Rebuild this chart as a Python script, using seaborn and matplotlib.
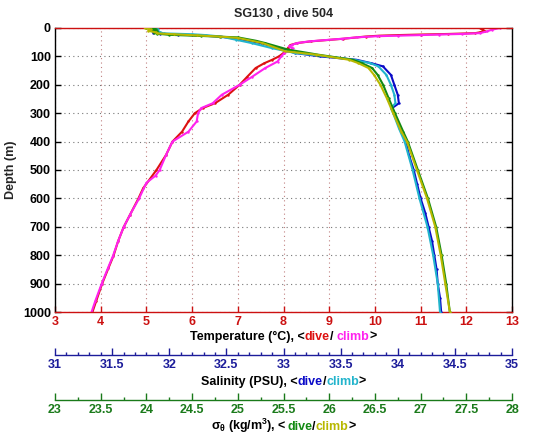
import matplotlib
matplotlib.use("Agg")
import matplotlib.pyplot as plt
import seaborn as sns
import numpy as np
import pandas as pd
from matplotlib.offsetbox import TextArea, HPacker, AnnotationBbox
from matplotlib.ticker import MultipleLocator

# ---------------- data ----------------
title = "SG130 , dive 504"

# Temperature (deg C)
temp_dive_depth = [0, 5, 10, 15, 18, 21, 23, 25, 27, 30, 38, 47, 53, 60, 70, 88, 100, 112, 124, 141,
                   171, 200, 235, 265, 282, 300, 329, 365, 400, 447, 500, 564, 602, 658, 702,
                   751, 802, 845, 901, 962, 1000]
temp_dive = [12.3, 12.35, 12.4, 12.3, 12.2, 11.6, 11.0, 10.5, 10.1, 9.8, 9.3, 8.6, 8.3, 8.15, 8.1,
             8.0, 7.9, 7.75, 7.58, 7.39, 7.21, 7.04, 6.79, 6.5, 6.23, 6.06, 5.92, 5.78, 5.57, 5.43,
             5.22, 4.93, 4.82, 4.64, 4.5, 4.38, 4.28, 4.17, 4.03, 3.90, 3.82]
temp_climb_depth = [0, 6, 12, 18, 21, 23, 25, 27, 29, 33, 38, 47, 53, 59, 65, 71, 80, 88, 100, 118,
                    141, 171, 200, 235, 265, 282, 300, 329, 365, 400, 447, 500, 520, 545, 600,
                    658, 702, 751, 802, 845, 901, 962, 1000]
temp_climb = [12.74, 12.56, 12.45, 12.3, 11.9, 11.4, 11.0, 10.5, 10.04, 9.6, 9.27, 8.57, 8.3, 8.19,
              8.12, 8.2, 8.15, 8.02, 7.95, 7.87, 7.6, 7.32, 7.04, 6.65, 6.45, 6.2, 6.13, 6.1, 5.92,
              5.57, 5.43, 5.29, 5.2, 5.0, 4.84, 4.64, 4.5, 4.38, 4.27, 4.16, 4.02, 3.88, 3.8]

# Salinity (PSU)
sal_dive_depth = [0, 4, 8, 12, 16, 20, 23, 26, 30, 40, 53, 71, 88, 100, 112, 124, 135, 165, 200,
                  235, 265, 282, 300, 353, 400, 450, 500, 550, 600, 650, 700, 750, 800, 850, 900,
                  950, 1000]
sal_dive = [31.82, 31.88, 31.84, 31.9, 31.86, 31.92, 32.08, 32.24, 32.44, 32.62, 32.80, 32.96,
            33.10, 33.32, 33.64, 33.77, 33.87, 33.94, 33.97, 34.0, 34.01, 33.95, 33.97, 34.02,
            34.07, 34.10, 34.14, 34.17, 34.20, 34.24, 34.27, 34.30, 34.32, 34.34, 34.35, 34.37, 34.38]
sal_climb_depth = [0, 5, 10, 15, 19, 22, 25, 30, 41, 53, 71, 88, 100, 112, 124, 135, 165, 200, 235,
                   265, 282, 300, 353, 400, 500, 600, 700, 800, 900, 1000]
sal_climb = [31.86, 31.9, 31.85, 31.92, 31.95, 32.2, 32.32, 32.45, 32.58, 32.72, 32.90, 33.10, 33.38,
             33.62, 33.76, 33.83, 33.90, 33.94, 33.97, 33.98, 33.94, 33.96, 34.01, 34.06, 34.13,
             34.19, 34.26, 34.31, 34.35, 34.37]

# Sigma-theta (kg/m^3)
sig_dive_depth = [0, 4, 8, 12, 16, 20, 24, 28, 33, 45, 53, 76, 94, 112, 124, 141, 165, 200, 247,
                  300, 365, 400, 500, 600, 700, 800, 900, 1000]
sig_dive = [24.0, 24.1, 24.05, 24.12, 24.08, 24.12, 24.25, 24.6, 25.0, 25.2, 25.3, 25.55, 25.88,
            26.26, 26.36, 26.47, 26.53, 26.59, 26.65, 26.72, 26.81, 26.86, 26.97, 27.08, 27.17,
            27.23, 27.28, 27.32]
sig_climb_depth = [0, 5, 10, 15, 19, 22, 26, 30, 35, 53, 82, 94, 112, 124, 141, 165, 200, 247, 300,
                   365, 400, 500, 600, 700, 800, 900, 1000]
sig_climb = [23.98, 24.05, 24.02, 24.1, 24.12, 24.3, 24.55, 24.8, 25.0, 25.27, 25.52, 25.86, 26.22,
             26.32, 26.43, 26.49, 26.56, 26.63, 26.70, 26.79, 26.85, 26.96, 27.07, 27.16, 27.22,
             27.27, 27.32]

temp_ticks = list(range(3, 14))
sal_ticks = [31, 31.5, 32, 32.5, 33, 33.5, 34, 34.5, 35]
sig_ticks = [23, 23.5, 24, 24.5, 25, 25.5, 26, 26.5, 27, 27.5, 28]
depth_ticks = list(range(0, 1001, 100))

# ---------------- style ----------------
sns.set_style("white")
plt.rcParams["font.family"] = ["Liberation Sans", "DejaVu Sans"]
plt.rcParams["font.weight"] = "bold"
plt.rcParams["mathtext.fontset"] = "custom"
plt.rcParams["mathtext.rm"] = "Liberation Sans:bold"
plt.rcParams["mathtext.it"] = "Liberation Sans:bold"
plt.rcParams["mathtext.bf"] = "Liberation Sans:bold"

C_RED = "#dd1111"
C_MAG = "#ff22ee"
C_BLUE = "#0a0ac8"
C_CYAN = "#22b4cc"
C_GREEN = "#138a13"
C_YEL = "#b8b800"
C_TAX = "#cc1111"
C_SAX = "#1c1c9a"
C_GAX = "#1a7a1a"
FS = 9

fig = plt.figure(figsize=(5.43, 4.42), dpi=100)
ax = fig.add_axes([55 / 543, 1 - 312 / 442, (512 - 55) / 543, (312 - 28) / 442])

def prof(axis, x, y, color):
    df = pd.DataFrame({"x": x, "y": y})
    sns.lineplot(data=df, x="x", y="y", ax=axis, sort=False, estimator=None, color=color,
                 linewidth=1.5, marker=".", markersize=3.5, markeredgewidth=0, legend=False)

# temperature axis
prof(ax, temp_dive, temp_dive_depth, C_RED)
prof(ax, temp_climb, temp_climb_depth, C_MAG)
ax.set_xlim(3, 13)
ax.set_ylim(1000, 0)
ax.set_xticks(temp_ticks)
ax.set_yticks(depth_ticks)
ax.set_xlabel("")
ax.set_ylabel("Depth (m)", fontsize=FS, fontweight="bold", labelpad=4)
ax.tick_params(axis="x", which="both", direction="in", top=True, bottom=True, colors=C_TAX,
               labelsize=FS, length=4, width=1, pad=3)
ax.tick_params(axis="y", which="both", direction="in", left=True, right=True, colors="black",
               labelsize=FS, length=4, width=1, pad=3)
for lab in ax.get_xticklabels() + ax.get_yticklabels():
    lab.set_fontweight("bold")
ax.spines["bottom"].set_color(C_TAX)
ax.spines["top"].set_color(C_TAX)
ax.spines["left"].set_color("black")
ax.spines["right"].set_color("black")
for s in ax.spines.values():
    s.set_linewidth(1.0)
ax.grid(True, axis="x", color="#c08080", linestyle=(0, (1, 3)), linewidth=0.8)
ax.grid(True, axis="y", color="#777777", linestyle=(0, (1, 3)), linewidth=0.8)
ax.set_title(title, fontsize=FS, fontweight="bold", pad=8)

# salinity axis
axs = ax.twiny()
prof(axs, sal_dive, sal_dive_depth, C_BLUE)
prof(axs, sal_climb, sal_climb_depth, C_CYAN)
axs.set_xlim(31, 35)
axs.set_ylim(1000, 0)

# sigma axis
axg = ax.twiny()
prof(axg, sig_dive, sig_dive_depth, C_GREEN)
prof(axg, sig_climb, sig_climb_depth, C_YEL)
axg.set_xlim(23, 28)
axg.set_ylim(1000, 0)

for tw, col, ticks, minor, off in [(axs, C_SAX, sal_ticks, 0.1, 31), (axg, C_GAX, sig_ticks, 0.25, 63.4)]:
    tw.set_xlabel("")
    tw.set_ylabel("")
    tw.xaxis.set_ticks_position("bottom")
    tw.xaxis.set_label_position("bottom")
    tw.spines["bottom"].set_position(("outward", off))
    tw.spines["bottom"].set_visible(True)
    tw.spines["bottom"].set_color(col)
    tw.spines["bottom"].set_linewidth(1.0)
    for side in ("top", "left", "right"):
        tw.spines[side].set_visible(False)
    tw.set_xticks(ticks)
    tw.set_xticklabels([f"{t:g}" for t in ticks], fontweight="bold")
    tw.xaxis.set_minor_locator(MultipleLocator(minor))
    tw.tick_params(axis="x", which="major", direction="in", colors=col, labelsize=FS,
                   length=5, width=1, pad=3)
    tw.tick_params(axis="x", which="minor", direction="in", colors=col, length=2.5, width=1)
    tw.tick_params(axis="y", left=False, right=False, labelleft=False, labelright=False)
    tw.grid(False)

# multi-coloured axis labels
def colored_label(parts, yfrac):
    boxes = [TextArea(t, textprops=dict(color=c, fontsize=FS, fontweight="bold")) for t, c in parts]
    pack = HPacker(children=boxes, align="baseline", pad=0, sep=0)
    ab = AnnotationBbox(pack, (283.5 / 543, yfrac), xycoords="figure fraction", frameon=False,
                        box_alignment=(0.5, 0.5), pad=0)
    fig.add_artist(ab)

colored_label([("Temperature (°C), <", "black"), ("dive", C_RED), ("/ ", "black"),
               ("climb", C_MAG), (">", "black")], 1 - 337 / 442)
colored_label([("Salinity (PSU), <", "black"), ("dive", C_BLUE), ("/", "black"),
               ("climb", C_CYAN), (">", "black")], 1 - 382 / 442)
colored_label([(r"$\sigma_\theta$ (kg/m$^3$), <", "black"), ("dive", C_GREEN), ("/", "black"),
               ("climb", C_YEL), (">", "black")], 1 - 426 / 442)

fig.savefig("out.png", dpi=100)
